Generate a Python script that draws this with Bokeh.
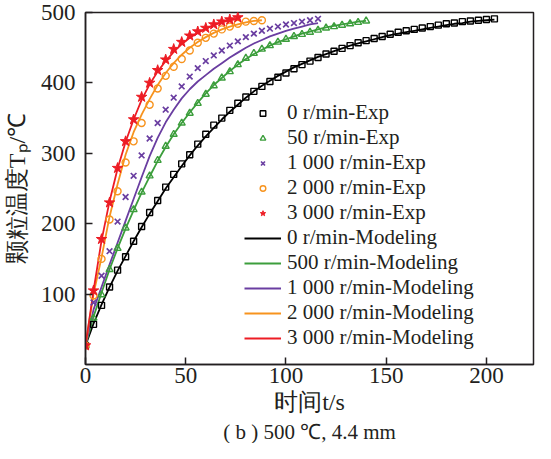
from bokeh.plotting import figure
from bokeh.models import Range1d, FixedTicker, Legend, LegendItem, Title
from bokeh.embed import file_html
from bokeh.resources import INLINE

# ---------------- data ----------------
t_0rpm = [0, 4, 8, 12, 16, 20, 24, 28, 32, 36, 40, 44, 48, 52, 56, 60, 64, 68, 72, 76,
          80, 84, 88, 92, 96, 100, 104, 108, 112, 116, 120, 124, 128, 132, 136, 140,
          144, 148, 152, 156, 160, 164, 168, 172, 176, 180, 184, 188, 192, 196, 200, 204]
exp_0rpm = [27, 57, 84, 110, 134, 153, 175, 196, 216, 233, 252, 270, 285, 298, 313, 327, 340, 350, 361, 371,
            380, 388, 395, 402, 408, 414, 420, 426, 431, 436, 441, 445, 449, 453, 457, 460,
            463, 466, 469, 472, 474, 476, 478, 480, 482, 484, 485, 487, 488, 489, 490, 491]
mod_0rpm = [27, 58, 85, 110, 133, 154, 175, 195, 214, 232, 250, 266, 282, 297, 311, 324, 336, 348, 359, 369,
            379, 388, 396, 403, 410, 416, 422, 427, 432, 437, 441, 445, 449, 453, 456, 459,
            462, 465, 468, 470, 472, 474, 476, 478, 480, 482, 484, 485, 487, 488, 489, 490]

t_500rpm = [0, 4, 8, 12, 16, 20, 24, 28, 32, 36, 40, 44, 48, 52, 56, 60, 64, 68, 72, 76,
            80, 84, 88, 92, 96, 100, 104, 108, 112, 116, 120, 124, 128, 132, 136, 140]
exp_500rpm = [27, 66, 99, 135, 165, 194, 220, 245, 268, 290, 310, 327, 343, 357, 371, 384, 396, 407, 416, 426,
              435, 442, 448, 453, 458, 462, 466, 469, 472, 475, 478, 480, 482, 484, 486, 488]
mod_500rpm = [27, 68, 102, 135, 165, 193, 219, 244, 267, 289, 309, 327, 343, 358, 372, 385, 397, 407, 417, 426,
              434, 441, 447, 453, 458, 462, 466, 470, 473, 476, 479, 481, 483, 485, 487, 488]

t_1000rpm = [0, 4, 8, 12, 16, 20, 24, 28, 32, 36, 40, 44, 48, 52, 56, 60, 64, 68, 72, 76,
             80, 84, 88, 92, 96, 100, 104, 108, 112, 116]
exp_1000rpm = [27, 88, 126, 161, 203, 238, 268, 297, 321, 343, 362, 379, 395, 409, 421, 431, 439, 446, 453, 459,
               465, 470, 474, 477, 480, 483, 485, 487, 489, 491]
mod_1000rpm = [27, 78, 110, 142, 173, 204, 235, 266, 296, 322, 344, 362, 378, 391, 402, 411, 420, 428, 436, 443,
               450, 456, 461, 466, 470, 474, 477, 480, 483, 485]

t_2000rpm = [0, 4, 8, 12, 16, 20, 24, 28, 32, 36, 40, 44, 48, 52, 56, 60, 64, 68, 72, 76, 80, 84, 88]
exp_2000rpm = [27, 98, 150, 206, 246, 287, 317, 343, 369, 392, 410, 423, 434, 446, 457, 464, 470, 476, 480, 484,
               487, 488, 489]
mod_2000rpm = [27, 100, 152, 210, 256, 298, 330, 355, 377, 397, 414, 428, 440, 450, 458, 465, 471, 476, 480, 483,
               486, 488, 489]

t_3000rpm = [0, 4, 8, 12, 16, 20, 24, 28, 32, 36, 40, 44, 48, 52, 56, 60, 64, 68, 72, 76]
exp_3000rpm = [27, 105, 178, 230, 279, 317, 348, 380, 400, 418, 433, 448, 458, 467, 473, 478, 483, 487, 490, 493]
mod_3000rpm = [27, 105, 176, 232, 278, 316, 348, 376, 398, 416, 431, 444, 455, 464, 471, 477, 482, 486, 489, 491]

exp_labels = ["0 r/min-Exp", "50 r/min-Exp", "1 000 r/min-Exp", "2 000 r/min-Exp", "3 000 r/min-Exp"]
mod_labels = ["0 r/min-Modeling", "500 r/min-Modeling", "1 000 r/min-Modeling",
              "2 000 r/min-Modeling", "3 000 r/min-Modeling"]
x_ticks = [0, 50, 100, 150, 200]
y_ticks = [100, 200, 300, 400, 500]
x_label = "时间t/s"
y_label = "颗粒温度Tₚ/℃"
caption = "( b ) 500 ℃, 4.4 mm"

# ---------------- styling ----------------
FONT = "Liberation Serif"
INK = "#231f20"
colors = ["#000000", "#3c9e3c", "#6a3ea1", "#f7931e", "#ed1c24"]
markers = ["square", "triangle", "x", "circle", "star"]
msizes = [6, 7, 8, 7, 11]

p = figure(width=535, height=443, output_backend="svg", toolbar_location=None,
           x_range=Range1d(0, 223.5), y_range=Range1d(0, 500),
           min_border_left=81, min_border_right=2, min_border_top=12, min_border_bottom=0,
           background_fill_color="white", border_fill_color="white")

p.xgrid.visible = False
p.ygrid.visible = False
p.outline_line_color = INK
p.outline_line_width = 1.5

p.axis.axis_line_color = INK
p.axis.axis_line_width = 1.5
p.axis.major_tick_line_color = INK
p.axis.major_tick_line_width = 1.5
p.axis.major_tick_in = 7
p.axis.major_tick_out = 0
p.axis.minor_tick_line_color = None
p.axis.major_label_text_font = FONT
p.axis.major_label_text_font_size = "23px"
p.axis.major_label_text_font_style = "normal"
p.axis.major_label_text_color = INK
p.axis.axis_label_text_font = FONT
p.axis.axis_label_text_font_size = "24px"
p.axis.axis_label_text_font_style = "normal"
p.axis.axis_label_text_color = INK

p.xaxis.ticker = FixedTicker(ticks=x_ticks)
p.yaxis.ticker = FixedTicker(ticks=y_ticks)
p.xaxis.major_label_standoff = 3
p.yaxis.major_label_standoff = 10
p.xaxis.axis_label = x_label
p.yaxis.axis_label = y_label
p.xaxis.axis_label_standoff = 3
p.yaxis.axis_label_standoff = 8

ts = [t_0rpm, t_500rpm, t_1000rpm, t_2000rpm, t_3000rpm]
exps = [exp_0rpm, exp_500rpm, exp_1000rpm, exp_2000rpm, exp_3000rpm]
mods = [mod_0rpm, mod_500rpm, mod_1000rpm, mod_2000rpm, mod_3000rpm]


def add_marker(x, y, c, mk, s):
    if mk == "star":
        return p.scatter(x, y, marker=mk, size=s, fill_color=c, line_color=c, line_width=1)
    if mk == "x":
        return p.scatter(x, y, marker=mk, size=s, line_color=c, line_width=1.7)
    return p.scatter(x, y, marker=mk, size=s, fill_color=None, line_color=c, line_width=1.4)


line_rs = []
for t, m, c in zip(ts, mods, colors):
    line_rs.append(p.line(t, m, line_color=c, line_width=1.8))

exp_rs = []
for t, e, c, mk, s in zip(ts, exps, colors, markers, msizes):
    exp_rs.append(add_marker(t, e, c, mk, s))

items = [LegendItem(label=l, renderers=[r]) for l, r in zip(exp_labels, exp_rs)]
items += [LegendItem(label=l, renderers=[r]) for l, r in zip(mod_labels, line_rs)]
legend = Legend(items=items, location=(159, 14), orientation="vertical",
                padding=0, margin=0, border_line_color=None, background_fill_alpha=0,
                glyph_width=37, glyph_height=14, label_height=24, label_standoff=6, spacing=-2,
                label_text_font=FONT, label_text_font_size="21px", label_text_color=INK)
p.add_layout(legend)

p.add_layout(Title(text=caption, align="center", text_font=FONT, text_font_size="21px",
                   text_font_style="normal", text_color=INK, standoff=0), "below")

open("out.html", "w").write(file_html(p, INLINE))
